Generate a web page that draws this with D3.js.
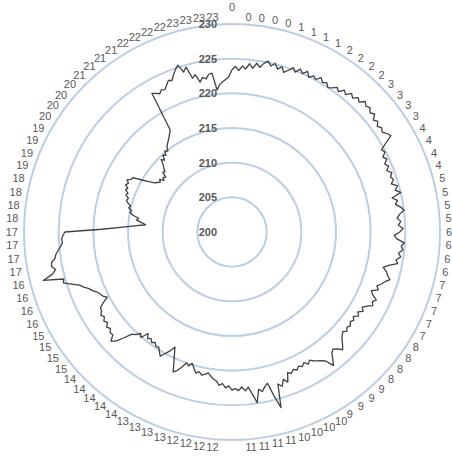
<!DOCTYPE html>
<html>
<head>
<meta charset="utf-8">
<script src="https://cdn.jsdelivr.net/npm/d3@7"></script>
<style>
  body { margin: 0; background: #fff; }
  svg { display: block; }
  text { font-family: "Liberation Sans", Arial, sans-serif; }
</style>
</head>
<body>
<svg id="chart"></svg>
<script>
// hour of each category shown round the rim (100 categories)
const hourLabels = [
  '0','0','0','0','0', '1','1','1','1', '2','2','2','2', '3','3','3','3',
  '4','4','4','4', '5','5','5','5', '6','6','6','6', '7','7','7','7','7',
  '8','8','8','8', '9','9','9','9', '10','10','10','10', '11','11','11','11',
  '12','12','12','12','12', '13','13','13','13', '14','14','14','14','14',
  '15','15','15','15', '16','16','16','16', '17','17','17','17',
  '18','18','18','18', '19','19','19','19', '20','20','20','20',
  '21','21','21','21', '22','22','22','22', '23','23','23','23'
];

// readings, 3 per category
const readings = [
  223.4, 223.9, 223.3, 224.0, 223.6, 224.4, 223.8, 224.6, 224.1, 224.8,
  225.2, 224.6, 225.1, 224.4, 224.9, 224.2, 224.7, 225.3, 224.8, 225.5,
  225.0, 225.6, 224.9, 225.4, 225.1, 225.7, 225.2, 225.5, 225.0, 225.3,
  225.8, 225.4, 226.1, 225.7, 226.4, 226.0, 226.6, 226.2, 226.9, 226.5,
  226.8, 226.3, 226.7, 226.0, 226.4, 225.9, 226.3, 226.0, 226.5, 226.8,
  225.6, 224.6, 224.9, 224.3, 224.7, 224.1, 224.5, 224.0, 224.6, 224.2,
  224.5, 224.0, 224.8, 224.3, 225.0, 223.6, 224.3, 223.9, 224.6, 225.0,
  224.3, 223.9, 224.4, 224.0, 224.7, 224.2, 223.4, 223.8, 224.9, 224.5,
  224.8, 224.2, 224.6, 224.0, 224.3, 223.1, 222.4, 223.0, 223.3, 223.8,
  223.2, 222.8, 222.3, 222.7, 221.8, 222.2, 223.0, 222.6, 222.9, 222.2,
  221.7, 222.1, 221.5, 221.9, 221.3, 221.7, 221.4, 221.8, 221.5, 221.9,
  221.5, 221.8, 222.2, 222.8, 223.3, 222.7, 222.3, 222.6, 223.4, 224.2,
  223.0, 222.6, 222.3, 222.0, 221.6, 222.0, 221.5, 221.9, 221.6, 222.0,
  221.7, 222.1, 221.8, 223.1, 222.5, 223.4, 222.9, 226.3, 224.4, 222.4,
  222.8, 223.4, 223.0, 224.9, 223.6, 222.5, 223.0, 222.4, 222.9, 222.6,
  222.8, 222.2, 222.5, 221.9, 222.2, 221.6, 221.4, 221.0, 220.6, 220.9,
  221.1, 220.7, 221.0, 220.4, 219.8, 220.3, 220.0, 220.8, 221.5, 221.9,
  220.6, 219.5, 218.5, 219.4, 220.0, 220.7, 220.2, 219.7, 219.8, 219.4,
  219.7, 219.3, 219.6, 219.0, 220.1, 219.7, 220.3, 220.6, 221.8, 223.0,
  223.5, 222.7, 222.8, 222.4, 222.7, 222.2, 222.5, 222.1, 222.4, 222.0,
  221.9, 221.2, 220.3, 220.8, 221.0, 221.3, 221.8, 222.2, 222.8, 223.3,
  224.3, 225.4, 225.2, 228.1, 226.6, 226.0, 226.5, 226.4, 225.8, 225.6,
  225.2, 224.8, 224.5, 224.6, 224.4, 224.1, 218.8, 216.1, 214.1, 212.5,
  213.2, 213.9, 213.6, 214.5, 215.0, 214.8, 215.3, 215.1, 215.6, 215.9,
  215.7, 216.2, 216.0, 216.5, 216.3, 216.8, 216.5, 216.9, 216.4, 216.3,
  215.0, 214.0, 213.2, 212.9, 212.6, 212.9, 212.3, 212.7, 212.4, 213.2,
  213.0, 213.5, 213.9, 214.6, 214.2, 214.9, 214.6, 215.2, 214.9, 215.5,
  215.8, 216.1, 216.4, 216.8, 217.2, 223.1, 222.8, 222.5, 222.9, 222.7,
  223.2, 223.7, 223.5, 224.2, 224.8, 225.3, 224.1, 224.7, 222.9, 223.3,
  222.1, 222.7, 222.4, 223.0, 223.1, 220.6, 221.3, 221.7, 222.0, 222.4
];

// value rings
const ringTicks = [200, 205, 210, 215, 220, 225, 230];

class RadarChart {

  constructor(_config) {
    this.config = {
      parentElement: _config.parentElement,
      containerWidth: _config.containerWidth || 452,
      containerHeight: _config.containerHeight || 458,
      center: _config.center || { x: 232, y: 232 },
      radius: _config.radius || 208
    }
    this.initVis();
  }

  initVis() {
    let vis = this;

    vis.svg = d3.select(vis.config.parentElement)
        .attr('width', vis.config.containerWidth)
        .attr('height', vis.config.containerHeight);

    vis.chart = vis.svg.append('g')
        .attr('transform', `translate(${vis.config.center.x},${vis.config.center.y})`);

    vis.rScale = d3.scaleLinear()
        .domain(d3.extent(ringTicks))
        .range([0, vis.config.radius]);

    // 0 at twelve o'clock, going clockwise
    vis.pointAngle = d3.scaleLinear()
        .domain([0, readings.length])
        .range([0, 2 * Math.PI]);

    vis.labelAngle = d3.scaleLinear()
        .domain([0, hourLabels.length])
        .range([0, 2 * Math.PI]);

    vis.render();
  }

  render() {
    let vis = this;
    const R = vis.config.radius;

    vis.chart.selectAll('.ring')
        .data(ringTicks.slice(1))
      .join('circle')
        .attr('class', 'ring')
        .attr('r', d => vis.rScale(d))
        .attr('fill', 'none')
        .attr('stroke', '#bccee2')
        .attr('stroke-width', 2);

    let line = d3.lineRadial()
        .angle((d, i) => vis.pointAngle(i))
        .radius(d => vis.rScale(d))
        .curve(d3.curveLinearClosed);

    vis.chart.append('path')
        .datum(readings)
        .attr('d', line)
        .attr('fill', 'none')
        .attr('stroke', '#404040')
        .attr('stroke-width', 1.3)
        .attr('stroke-linejoin', 'round');

    vis.chart.selectAll('.ring-label')
        .data(ringTicks)
      .join('text')
        .attr('class', 'ring-label')
        .attr('x', -15)
        .attr('y', d => -vis.rScale(d))
        .attr('dy', '0.35em')
        .attr('text-anchor', 'end')
        .style('font-size', '11px')
        .style('font-weight', 'bold')
        .style('fill', '#595959')
        .text(d => d);

    // category labels sit just outside the outer ring
    let maxY = vis.config.containerHeight - vis.config.center.y;
    hourLabels.forEach((lab, i) => {
      let a = vis.labelAngle(i);
      let s = Math.sin(a), c = Math.cos(a);
      let t = vis.chart.append('text')
          .attr('class', 'cat-label')
          .attr('text-anchor', 'middle')
          .attr('dy', '0.35em')
          .style('font-size', '11px')
          .style('fill', '#595959')
          .text(lab);
      let w = t.node().getComputedTextLength();
      let side = Math.abs(s) < 1e-6 ? 0 : Math.sign(s);
      let x = R * s + 6 * s + side * w / 2;
      let y = -R * c - 7.4 * c;
      if (side === 0) y -= 9 * Math.sign(c);
      if (y + 6 > maxY) { t.remove(); return; }
      t.attr('x', x).attr('y', y);
    });
  }
}

new RadarChart({ parentElement: '#chart', containerWidth: 452, containerHeight: 458 });
</script>
</body>
</html>
